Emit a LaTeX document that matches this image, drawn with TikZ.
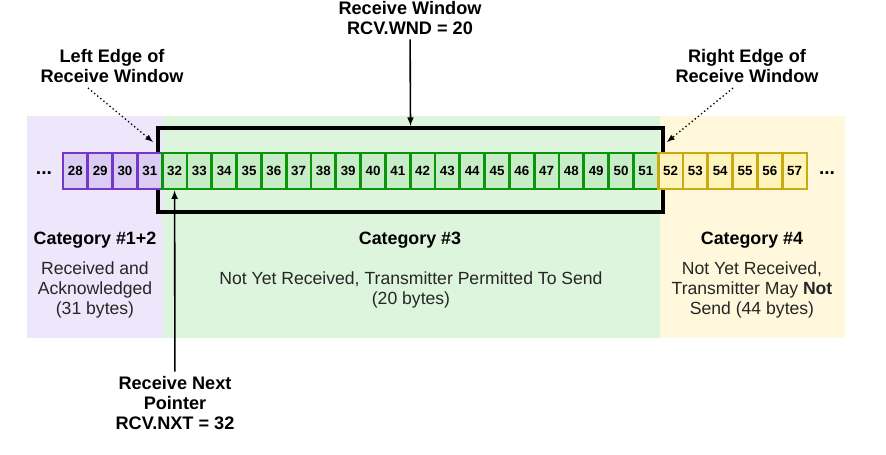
\documentclass[tikz,border=0pt]{standalone}
\usepackage{fontspec}
\setmainfont{Liberation Sans}
\usetikzlibrary{arrows,shapes}
\usetikzlibrary{positioning}
\definecolor{purplebg}{HTML}{EEE6FA}
\definecolor{greenbg}{HTML}{DDF4DD}
\definecolor{yellowbg}{HTML}{FFF8DC}
\definecolor{purpleline}{HTML}{7438C8}
\definecolor{purplefill}{HTML}{DCCCF4}
\definecolor{greenline}{HTML}{0A950A}
\definecolor{greenfill}{HTML}{C6EDC6}
\definecolor{yellowline}{HTML}{C9AA10}
\definecolor{yellowfill}{HTML}{FFF4BC}
\tikzstyle{cell}=[draw,line width=2pt,minimum width=18.6pt,minimum height=27pt,inner sep=0pt,font=\fontsize{10}{12}\selectfont\bfseries]
\tikzstyle{purplecell}=[cell,draw=purpleline,fill=purplefill]
\tikzstyle{greencell}=[cell,draw=greenline,fill=greenfill]
\tikzstyle{yellowcell}=[cell,draw=yellowline,fill=yellowfill]
\tikzstyle{window}=[draw=black,line width=3pt,minimum width=378.75pt,minimum height=63pt,inner sep=0pt]
\tikzstyle{label}=[align=center,font=\fontsize{13.6}{15}\selectfont\bfseries]
\tikzstyle{cattitle}=[font=\fontsize{13.4}{15}\selectfont\bfseries]
\tikzstyle{catbody}=[align=center,text=black!85,font=\fontsize{13.2}{15}\selectfont]
\tikzstyle{edge} = [draw,line width=1.2pt,-latex]
\begin{document}
\begin{tikzpicture}[x=0.75pt,y=-0.75pt]
  \useasboundingbox (0,0) rectangle (886,454);

  % background areas
  \fill[purplebg] (27,116) rectangle (163,338);
  \fill[greenbg] (163,116) rectangle (660,338);
  \fill[yellowbg] (660,116) rectangle (845,338);

  \def\x0{75.4};
  \def\w{24.8};
  \def\yc{171};

  \node[window] (wnd) at (410.5,170) {};

  \foreach \n in {28,...,31}
     \node[purplecell] (c\n) at (\x0+\n*\w-28*\w, \yc) {\n};
  \foreach \n in {32,...,51}
     \node[greencell] (c\n) at (\x0+\n*\w-28*\w, \yc) {\n};
  \foreach \n in {52,...,57}
     \node[yellowcell] (c\n) at (\x0+\n*\w-28*\w, \yc) {\n};

  \node[font=\bfseries\Large] (ldots) at (44,173) {...};
  \node[font=\bfseries\Large] (rdots) at (827,173) {...};

  % labels
  \node[label] (rwnd) at (410,18) {Receive Window\\RCV.WND = 20};
  \node[label] (ledge) at (112,66) {Left Edge of\\Receive Window};
  \node[label] (redge) at (747,66) {Right Edge of\\Receive Window};
  \node[label] (rnxt) at (175,403) {Receive Next\\Pointer\\RCV.NXT = 32};

  \coordinate (lstart) at (88,88);
  \coordinate (ltip) at (153,142);
  \coordinate (rstart) at (733,88);
  \coordinate (rtip) at (667,142);

  \draw[edge] (rwnd) -- (wnd.north);
  \draw[edge] (rnxt) -- (c32.south);
  \draw[line width=1pt,dotted,-latex] (lstart) -- (ltip);
  \draw[line width=1pt,dotted,-latex] (rstart) -- (rtip);

  % categories
  \node[cattitle] (cat12) at (95,240) {Category \#1+2};
  \node[catbody] (txt12) at (95,290) {Received and\\Acknowledged\\(31 bytes)};
  \node[cattitle] (cat3) at (410,240) {Category \#3};
  \node[catbody] (txt3) at (411,290) {Not Yet Received, Transmitter Permitted To Send\\(20 bytes)};
  \node[cattitle] (cat4) at (752,240) {Category \#4};
  \node[catbody] (txt4) at (752,290) {Not Yet Received,\\Transmitter May \textbf{Not}\\Send (44 bytes)};

\end{tikzpicture}
\end{document}
